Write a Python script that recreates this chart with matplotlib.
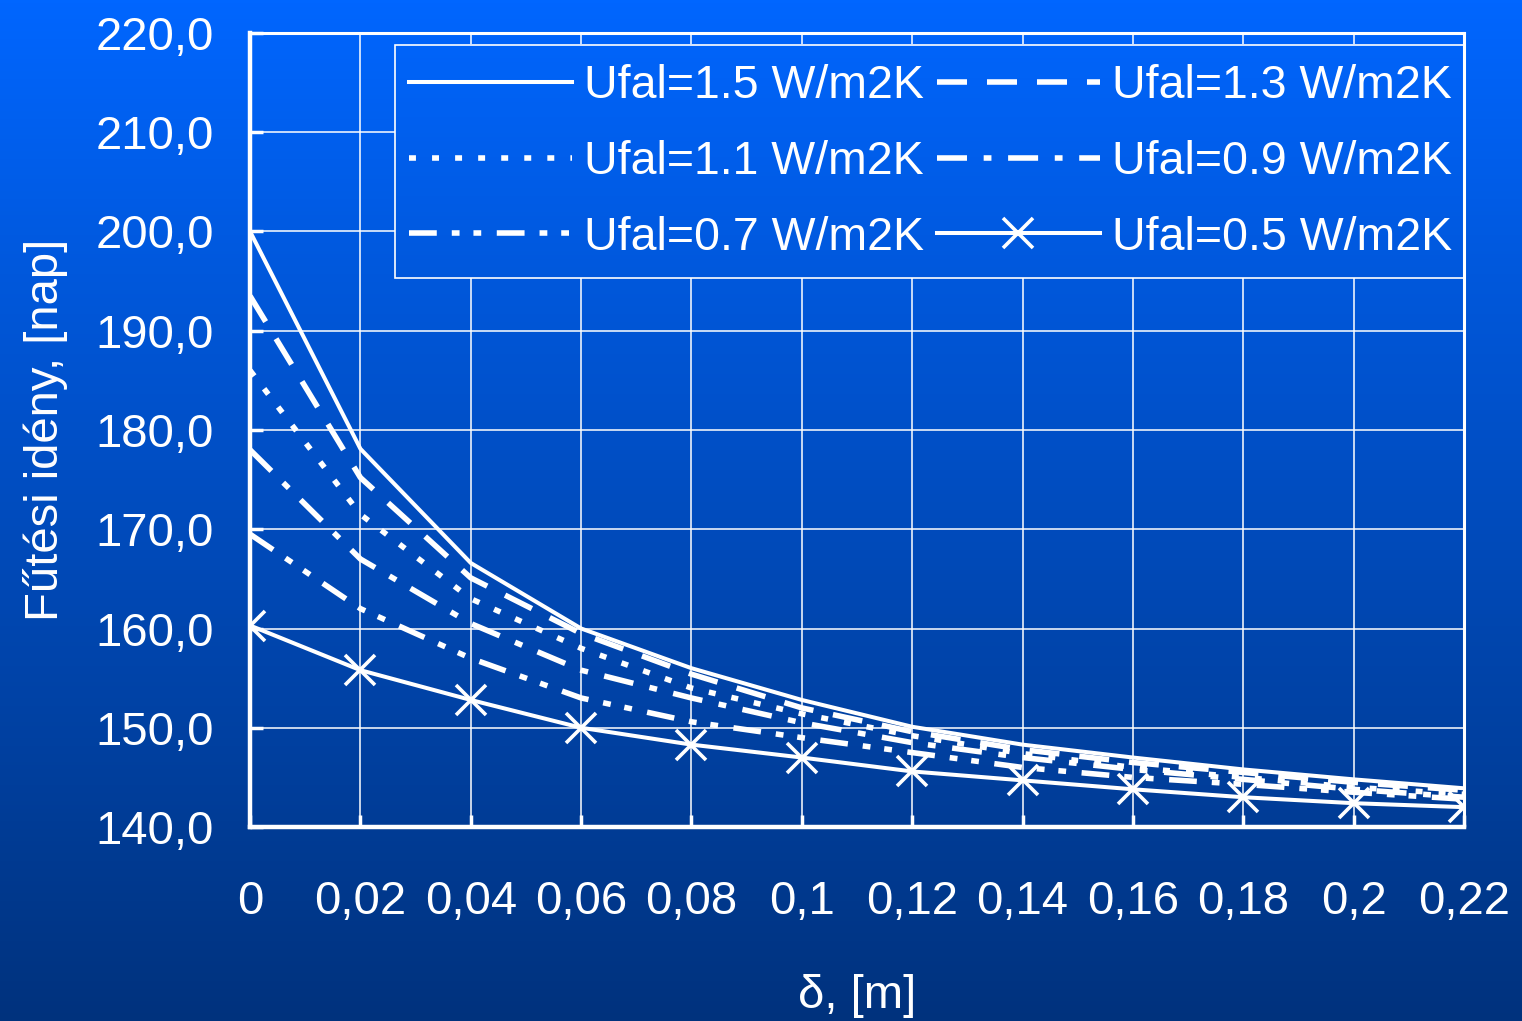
import numpy as np
import matplotlib
matplotlib.use("Agg")
import matplotlib.pyplot as plt
from matplotlib.patches import Rectangle
from matplotlib.ticker import FuncFormatter

# vastagság [m]
delta = [0, 0.02, 0.04, 0.06, 0.08, 0.10, 0.12, 0.14, 0.16, 0.18, 0.20, 0.22]

# fűtési idény [nap] különböző Ufal értékekre
u15 = [200.0, 178.1, 166.6, 160.0, 156.0, 152.8, 150.1, 148.3, 147.0, 145.8, 144.8, 143.9]
u13 = [193.5, 175.2, 165.1, 159.5, 155.4, 152.0, 149.6, 147.8, 146.5, 145.5, 144.5, 143.7]
u11 = [186.0, 171.5, 163.0, 158.0, 154.0, 151.4, 149.2, 147.4, 146.0, 145.0, 144.0, 143.3]
u09 = [178.0, 167.0, 160.5, 155.8, 153.0, 150.5, 148.5, 147.0, 145.8, 144.8, 143.8, 143.0]
u07 = [169.5, 162.0, 157.0, 153.0, 150.6, 149.0, 147.5, 146.0, 145.0, 144.3, 143.5, 142.8]
u05 = [160.3, 155.8, 152.8, 150.0, 148.3, 147.0, 145.6, 144.7, 143.8, 143.0, 142.4, 142.0]

labels = ["Ufal=1.5 W/m2K", "Ufal=1.3 W/m2K", "Ufal=1.1 W/m2K",
          "Ufal=0.9 W/m2K", "Ufal=0.7 W/m2K", "Ufal=0.5 W/m2K"]

plt.rcParams['font.family'] = ['Liberation Sans', 'DejaVu Sans']

fig = plt.figure(figsize=(15.22, 10.21), dpi=100)

# háttér színátmenet
top = np.array([0, 102, 255]) / 255
bot = np.array([0, 50, 125]) / 255

def gradient(t0, t1):
    t = np.linspace(t0, t1, 256)[:, None]
    return (top * (1 - t) + bot * t)[:, None, :]

bg = fig.add_axes([0, 0, 1, 1], zorder=-10)
bg.imshow(gradient(0, 1), aspect='auto', extent=[0, 1, 0, 1])
bg.axis('off')

ax_pos = [0.1643, 0.19, 0.7976, 0.7777]
ax = fig.add_axes(ax_pos)
ax.set_facecolor('none')

lw = 2.9
dlw = 4.0
h15, = ax.plot(delta, u15, color='white', lw=lw, linestyle='-', label=labels[0])
h13, = ax.plot(delta, u13, color='white', lw=dlw, linestyle=(0, (5.4, 3.6)), label=labels[1])
h11, = ax.plot(delta, u11, color='white', lw=dlw, linestyle=(0, (1.25, 2.9)), label=labels[2])
h09, = ax.plot(delta, u09, color='white', lw=dlw, linestyle=(0, (5.4, 3, 1.4, 3)), label=labels[3])
h07, = ax.plot(delta, u07, color='white', lw=dlw,
               linestyle=(0, (5, 2.7, 1.4, 2.5, 1.4, 2.8)), label=labels[4])
h05, = ax.plot(delta, u05, color='white', lw=lw, linestyle='-', marker='x',
               markersize=22, markeredgewidth=2.6, label=labels[5])

ax.set_xticks(delta)
ax.set_yticks(np.arange(140, 221, 10))

def xfmt(v, pos):
    s = ('%.2f' % v).rstrip('0').rstrip('.')
    return s.replace('.', ',')

ax.xaxis.set_major_formatter(FuncFormatter(xfmt))
ax.yaxis.set_major_formatter(FuncFormatter(lambda v, p: ('%.1f' % v).replace('.', ',')))

ax.grid(True, color='white', lw=1.1)
ax.set_axisbelow(True)
ax.tick_params(axis='both', direction='in', length=9, width=2.5, colors='white',
               labelsize=34)
ax.tick_params(axis='x', pad=38)
ax.tick_params(axis='y', pad=26)

for side, w in [('left', 3.2), ('bottom', 3.2), ('top', 2.2), ('right', 2.2)]:
    ax.spines[side].set_color('white')
    ax.spines[side].set_linewidth(w)

ax.set_xlabel('δ, [m]', color='white', fontsize=34, labelpad=36)
ax.set_ylabel('Fűtési idény, [nap]', color='white', fontsize=34, labelpad=20)

# jelmagyarázat doboza: háttérszínű kitöltés, fehér keret (a rács nem látszik alatta)
bx0, bx1, by0, by1 = 0.1194, 1.0, 0.6914, 0.985
fy0 = ax_pos[1] + by0 * ax_pos[3]
fy1 = ax_pos[1] + by1 * ax_pos[3]
ax.imshow(gradient(1 - fy1, 1 - fy0), aspect='auto', extent=[bx0, bx1, by0, by1],
          transform=ax.transAxes, zorder=2.5)
ax.add_patch(Rectangle((bx0, by0), bx1 - bx0, by1 - by0, transform=ax.transAxes,
                       facecolor='none', edgecolor='white', lw=1.2, zorder=3))

ax.set_xlim(0, 0.22)
ax.set_ylim(140, 220)

# soronkénti sorrend a kétoszlopos jelmagyarázathoz
handles = [h15, h11, h07, h13, h09, h05]
leg = ax.legend(handles, [h.get_label() for h in handles], ncol=2,
                loc='upper left', bbox_to_anchor=(0.1146, 0.985),
                fontsize=33.5, handlelength=3.5, handletextpad=0.26,
                columnspacing=0.28, labelspacing=0.68, borderpad=0.42,
                borderaxespad=0, frameon=False, labelcolor='white')
leg.set_zorder(5)

fig.savefig('out.png', dpi=100)
